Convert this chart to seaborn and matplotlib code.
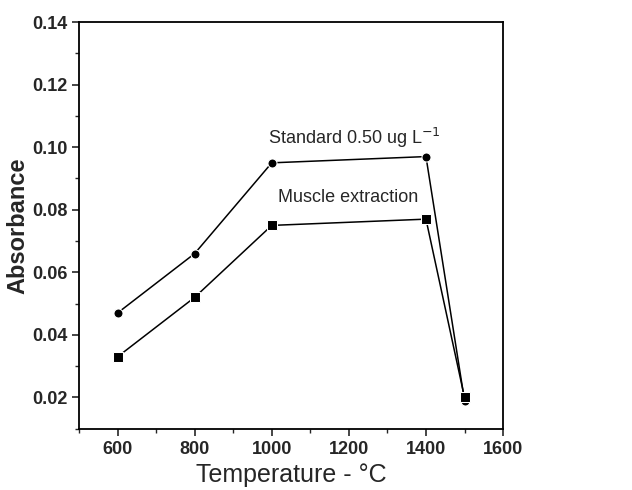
import numpy as np
import pandas as pd
import matplotlib
matplotlib.use('Agg')
import matplotlib.pyplot as plt
from matplotlib.ticker import MultipleLocator
import seaborn as sns

# data
temperature = [600, 800, 1000, 1400, 1500]
standard_abs = [0.047, 0.066, 0.095, 0.097, 0.019]
muscle_abs = [0.033, 0.052, 0.075, 0.077, 0.020]

df = pd.DataFrame({
    'Temperature': temperature * 2,
    'Absorbance': standard_abs + muscle_abs,
    'Sample': ['Standard'] * len(temperature) + ['Muscle'] * len(temperature),
})

sns.set_style('white')
plt.rcParams['font.family'] = ['Liberation Sans', 'DejaVu Sans']

fig = plt.figure(figsize=(6.32, 4.9), dpi=100)
ax = fig.add_axes([0.125, 0.125, 0.671, 0.830])

sns.lineplot(data=df, x='Temperature', y='Absorbance', hue='Sample', style='Sample',
             markers={'Standard': 'o', 'Muscle': 's'}, dashes=False,
             palette={'Standard': 'black', 'Muscle': 'black'},
             markersize=6.5, linewidth=1.1, legend=False, ax=ax)

ax.set_xlim(500, 1600)
ax.set_ylim(0.01, 0.14)
ax.xaxis.set_major_locator(MultipleLocator(200))
ax.xaxis.set_minor_locator(MultipleLocator(100))
ax.yaxis.set_minor_locator(MultipleLocator(0.01))
ax.set_yticks(np.arange(0.02, 0.141, 0.02))
ax.set_yticklabels([f'{v:.2f}' for v in np.arange(0.02, 0.141, 0.02)])

ax.tick_params(axis='both', which='major', direction='out', length=5, width=1.2,
               labelsize=13, bottom=True, left=True, top=False, right=False)
ax.tick_params(axis='both', which='minor', direction='out', length=3, width=1.0,
               bottom=True, left=True, top=False, right=False)
for lab in ax.get_xticklabels() + ax.get_yticklabels():
    lab.set_fontweight('bold')

for sp in ax.spines.values():
    sp.set_color('black')
    sp.set_linewidth(1.3)

ax.set_xlabel('Temperature - °C', fontsize=18)
ax.set_ylabel('Absorbance', fontsize=17, fontweight='bold')
ax.yaxis.set_label_coords(-0.118, 0.5)

ax.text(990, 0.103, 'Standard 0.50 ug L$^{-1}$', fontsize=13, va='center', ha='left')
ax.text(1016, 0.084, 'Muscle extraction', fontsize=13, va='center', ha='left')

fig.savefig('out.png', dpi=100)
